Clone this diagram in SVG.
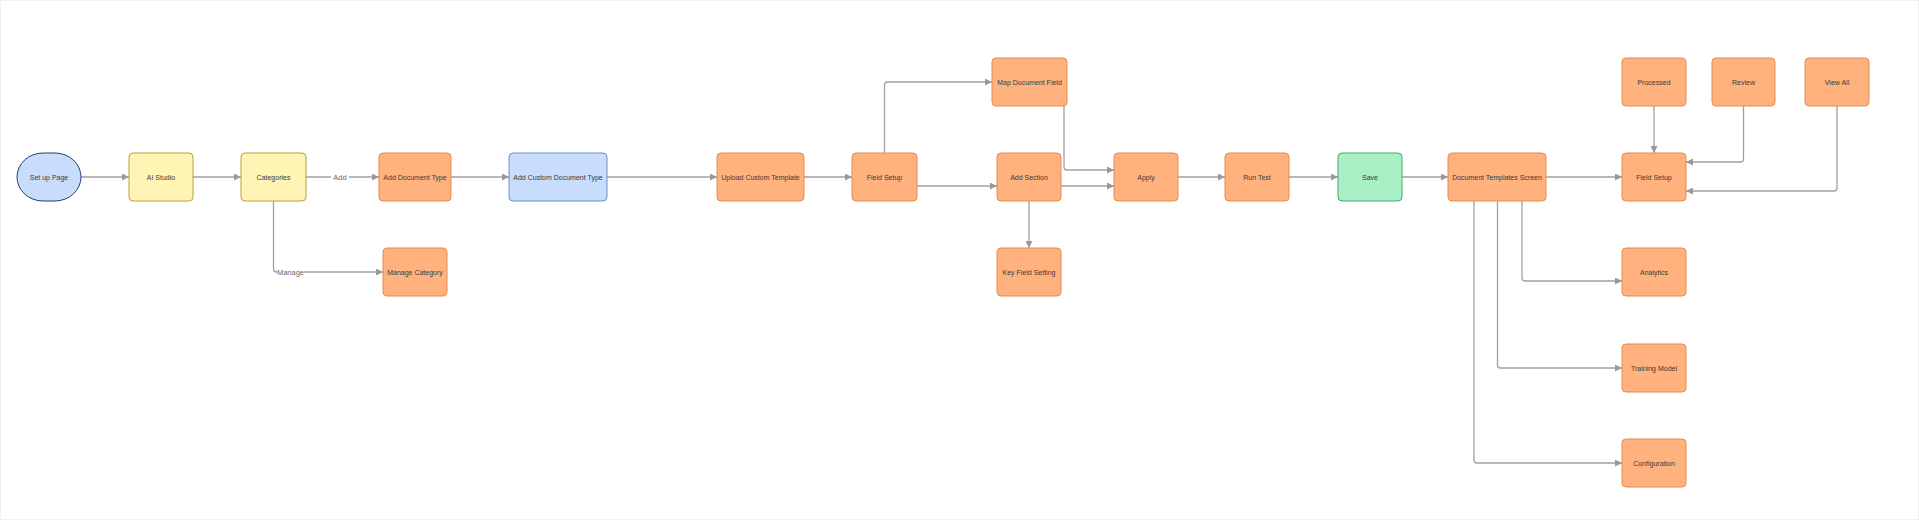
<svg xmlns="http://www.w3.org/2000/svg" width="1919" height="520" viewBox="0 0 1919 520">
<defs>
<marker id="arr" viewBox="0 0 10 10" refX="10" refY="5" markerWidth="7" markerHeight="7" markerUnits="userSpaceOnUse" orient="auto">
<path d="M0,0 L10,5 L0,10 Z" fill="#999"/>
</marker>
<style>
.n rect{stroke-width:1}
.or rect{fill:#FFB27E;stroke:#E58B4E}
.ye rect{fill:#FFF4B3;stroke:#B8A23A}
.bl rect{fill:#C7DDFB;stroke:#6B8FC7}
.gr rect{fill:#AAF0C6;stroke:#45A874}
.n text{font-family:"Liberation Sans",Arial,sans-serif;font-size:7px;fill:#3a3a3a;text-anchor:middle;dominant-baseline:central}
#connectors path{fill:none;stroke:#A0A0A0;stroke-width:1.3;marker-end:url(#arr)}
.lbl{font-family:"Liberation Sans",Arial,sans-serif;font-size:7.5px;fill:#666;text-anchor:middle;dominant-baseline:central}
</style>
</defs>
<rect x="0" y="0" width="1919" height="520" fill="#ffffff"/>
<rect x="0.5" y="0.5" width="1918" height="519" fill="none" stroke="#f0f0f0" stroke-width="1"/>

<g id="connectors">
<path d="M81,177 H129"/>
<path d="M193,177 H241"/>
<path d="M306,177 H379"/>
<path d="M273.5,201 V269 Q273.5,272 276.5,272 H383"/>
<path d="M451,177 H509"/>
<path d="M607,177 H717"/>
<path d="M804,177 H852"/>
<path d="M884.5,153 V85 Q884.5,82 887.5,82 H992"/>
<path d="M917,186 H997"/>
<path d="M1064,106 V167 Q1064,170 1067,170 H1114"/>
<path d="M1061,186 H1114"/>
<path d="M1029,201 V248"/>
<path d="M1178,177 H1225"/>
<path d="M1289,177 H1338"/>
<path d="M1402,177 H1448"/>
<path d="M1546,177 H1622"/>
<path d="M1654,106 V153"/>
<path d="M1743.5,106 V159 Q1743.5,162 1740.5,162 H1686"/>
<path d="M1837,106 V188 Q1837,191 1834,191 H1686"/>
<path d="M1522,201 V278 Q1522,281 1525,281 H1622"/>
<path d="M1497.5,201 V365 Q1497.5,368 1500.5,368 H1622"/>
<path d="M1474,201 V460 Q1474,463 1477,463 H1622"/>
<rect x="331" y="172" width="18" height="10" fill="#fff"/>
<text class="lbl" x="340" y="177">Add</text>
<rect x="277" y="267" width="27" height="10" fill="#fff"/>
<text class="lbl" x="290.5" y="272">Manage</text>
</g>

<g id="setup-page" class="n bl"><rect x="17" y="153" width="64" height="48" rx="26" ry="24" style="stroke:#243F78"/><text x="49" y="177">Set up Page</text></g>
<g id="ai-studio" class="n ye"><rect x="129" y="153" width="64" height="48" rx="4"/><text x="161" y="177">AI Studio</text></g>
<g id="categories" class="n ye"><rect x="241" y="153" width="65" height="48" rx="4"/><text x="273.5" y="177">Categories</text></g>
<g id="add-document-type" class="n or"><rect x="379" y="153" width="72" height="48" rx="4"/><text x="415" y="177">Add Document Type</text></g>
<g id="manage-category" class="n or"><rect x="383" y="248" width="64" height="48" rx="4"/><text x="415" y="272">Manage Category</text></g>
<g id="add-custom-document-type" class="n bl"><rect x="509" y="153" width="98" height="48" rx="4"/><text x="558" y="177">Add Custom Document Type</text></g>
<g id="upload-custom-template" class="n or"><rect x="717" y="153" width="87" height="48" rx="4"/><text x="760.5" y="177">Upload Custom Template</text></g>
<g id="field-setup-1" class="n or"><rect x="852" y="153" width="65" height="48" rx="4"/><text x="884.5" y="177">Field Setup</text></g>
<g id="map-document-field" class="n or"><rect x="992" y="58" width="75" height="48" rx="4"/><text x="1029.5" y="82">Map Document Field</text></g>
<g id="add-section" class="n or"><rect x="997" y="153" width="64" height="48" rx="4"/><text x="1029" y="177">Add Section</text></g>
<g id="key-field-setting" class="n or"><rect x="997" y="248" width="64" height="48" rx="4"/><text x="1029" y="272">Key Field Setting</text></g>
<g id="apply" class="n or"><rect x="1114" y="153" width="64" height="48" rx="4"/><text x="1146" y="177">Apply</text></g>
<g id="run-test" class="n or"><rect x="1225" y="153" width="64" height="48" rx="4"/><text x="1257" y="177">Run Test</text></g>
<g id="save" class="n gr"><rect x="1338" y="153" width="64" height="48" rx="4"/><text x="1370" y="177">Save</text></g>
<g id="document-templates-screen" class="n or"><rect x="1448" y="153" width="98" height="48" rx="4"/><text x="1497" y="177">Document Templates Screen</text></g>
<g id="field-setup-2" class="n or"><rect x="1622" y="153" width="64" height="48" rx="4"/><text x="1654" y="177">Field Setup</text></g>
<g id="processed" class="n or"><rect x="1622" y="58" width="64" height="48" rx="4"/><text x="1654" y="82">Processed</text></g>
<g id="review" class="n or"><rect x="1712" y="58" width="63" height="48" rx="4"/><text x="1743.5" y="82">Review</text></g>
<g id="view-all" class="n or"><rect x="1805" y="58" width="64" height="48" rx="4"/><text x="1837" y="82">View All</text></g>
<g id="analytics" class="n or"><rect x="1622" y="248" width="64" height="48" rx="4"/><text x="1654" y="272">Analytics</text></g>
<g id="training-model" class="n or"><rect x="1622" y="344" width="64" height="48" rx="4"/><text x="1654" y="368">Training Model</text></g>
<g id="configuration" class="n or"><rect x="1622" y="439" width="64" height="48" rx="4"/><text x="1654" y="463">Configuration</text></g>
</svg>
